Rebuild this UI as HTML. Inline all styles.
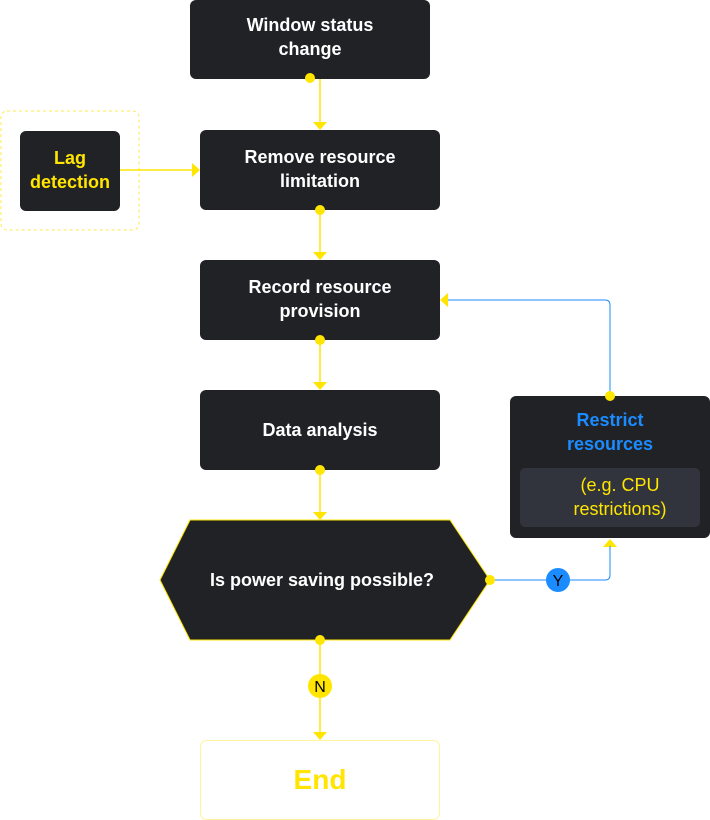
<!DOCTYPE html>
<html><head><style>
body{margin:0;width:710px;height:820px;background:#fff;font-family:"Liberation Sans",sans-serif;overflow:hidden}
</style></head><body>
<svg width="710" height="820" xmlns="http://www.w3.org/2000/svg" style="position:absolute;left:0;top:0">
<g font-family="Liberation Sans, sans-serif" font-weight="bold" font-size="18" text-anchor="middle">
<!-- lag dashed -->
<rect x="1" y="111" width="138" height="119" rx="6" fill="none" stroke="#ffe84d" stroke-dasharray="3,3"/>
<!-- connectors -->
<g stroke="#ffe500" stroke-width="1.5" fill="none">
<line x1="320" y1="79" x2="320" y2="124"/>
<line x1="120" y1="170" x2="194" y2="170"/>
<line x1="320" y1="210" x2="320" y2="254"/>
<line x1="320" y1="340" x2="320" y2="384"/>
<line x1="320" y1="470" x2="320" y2="514"/>
<line x1="320" y1="640" x2="320" y2="734"/>
</g>
<g fill="#ffe500">
<polygon points="313,122 327,122 320,130"/>
<polygon points="192,163 192,177 200,170"/>
<polygon points="313,252 327,252 320,260"/>
<polygon points="313,382 327,382 320,390"/>
<polygon points="313,512 327,512 320,520"/>
<polygon points="313,732 327,732 320,740"/>
<polygon points="603,547 617,547 610,539"/>
</g>
<path d="M610,396 V305 Q610,300 605,300 H448" stroke="#1a8cff" stroke-width="1" fill="none"/>
<polygon points="440,300 448,293 448,307" fill="#ffe500"/>
<path d="M490,580 H605 Q610,580 610,575 V546" stroke="#1a8cff" stroke-width="1" fill="none"/>
<!-- boxes -->
<rect x="190" y="0" width="240" height="79" rx="6" fill="#212226"/>
<text x="310" y="31" fill="#fff">Window status</text><text x="310" y="55" fill="#fff">change</text>
<rect x="20" y="131" width="100" height="80" rx="6" fill="#212226"/>
<text x="70" y="164" fill="#ffe500">Lag</text><text x="70" y="188" fill="#ffe500">detection</text>
<rect x="200" y="130" width="240" height="80" rx="6" fill="#212226"/>
<text x="320" y="163" fill="#fff">Remove resource</text><text x="320" y="187" fill="#fff">limitation</text>
<rect x="200" y="260" width="240" height="80" rx="6" fill="#212226"/>
<text x="320" y="293" fill="#fff">Record resource</text><text x="320" y="317" fill="#fff">provision</text>
<rect x="200" y="390" width="240" height="80" rx="6" fill="#212226"/>
<text x="320" y="436" fill="#fff">Data analysis</text>
<polygon points="160,580 190,520 450,520 490,580 450,640 190,640" fill="#212226" stroke="#ffe500" stroke-width="1"/>
<text x="322" y="586" fill="#fff">Is power saving possible?</text>
<rect x="510" y="396" width="200" height="142" rx="6" fill="#212226"/>
<text x="610" y="426" fill="#1a8cff">Restrict</text><text x="610" y="450" fill="#1a8cff">resources</text>
<rect x="520" y="468" width="180" height="59" rx="5" fill="#31343c"/>
<text x="620" y="491" fill="#ffe500" font-weight="normal">(e.g. CPU</text><text x="620" y="515" fill="#ffe500" font-weight="normal">restrictions)</text>
<rect x="200.5" y="740.5" width="239" height="79" rx="6" fill="#fff" stroke="#fff3a0"/>
<text x="320" y="789" fill="#ffe500" font-size="28">End</text>
<!-- dots -->
<g fill="#ffe500">
<circle cx="310" cy="78" r="5"/><circle cx="320" cy="210" r="5"/><circle cx="320" cy="340" r="5"/>
<circle cx="320" cy="470" r="5"/><circle cx="320" cy="640" r="5"/><circle cx="490" cy="580" r="5"/>
<circle cx="610" cy="396" r="5"/>
<circle cx="320" cy="686" r="12"/>
</g>
<circle cx="558" cy="580" r="12" fill="#1a8cff"/>
<text x="558" y="586" font-size="16" font-weight="normal" fill="#000">Y</text>
<text x="320" y="692" font-size="16" font-weight="normal" fill="#000">N</text>
</g>
</svg>
</body></html>
